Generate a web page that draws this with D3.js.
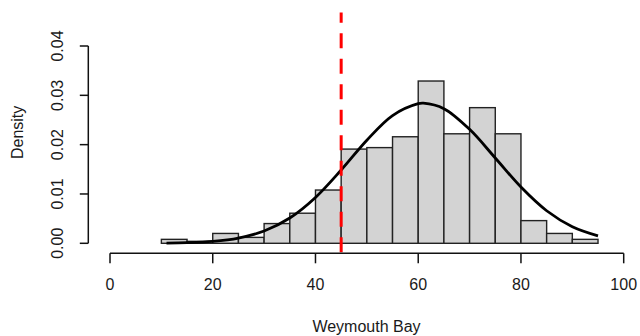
<!DOCTYPE html>
<html>
<head>
<meta charset="utf-8">
<script src="https://cdn.jsdelivr.net/npm/d3@7"></script>
<style>
  body { margin: 0; background: #fff; }
  svg { display: block; }
  text { font-family: "Liberation Sans", Arial, sans-serif; fill: #1a1a1a; }
</style>
</head>
<body>
<figure id="hist" style="margin:0"></figure>
<script>
// histogram bins (left edges) and densities
const binStarts = [10, 15, 20, 25, 30, 35, 40, 45, 50, 55, 60, 65, 70, 75, 80, 85, 90];
const binWidth = 5;
const densities = [0.0008, 0.0004, 0.002, 0.0012, 0.004, 0.0061, 0.0108, 0.0191, 0.0194,
  0.0216, 0.0329, 0.0222, 0.0275, 0.0222, 0.0046, 0.002, 0.0008];

// fitted curve, estimated points
const curveX = [11, 15, 20, 25, 30, 35, 40, 45, 50, 55, 60, 61, 65, 70, 75, 80, 85, 90, 95];
const curveY = [0.00005, 0.00013, 0.0004, 0.00107, 0.00249, 0.00513, 0.0093, 0.01486, 0.0209,
  0.0259, 0.0283, 0.0284, 0.0273, 0.0231, 0.0173, 0.0114, 0.0066, 0.00337, 0.00152];

const cutoff = 45;
const xTicks = [0, 20, 40, 60, 80, 100];
const yTicks = [0, 0.01, 0.02, 0.03, 0.04];

const width = 640, height = 336;

const svg = d3.select("figure#hist")
  .append("svg")
  .attr("width", width)
  .attr("height", height);

const x = d3.scaleLinear().domain([0, 100]).range([110, 623.7]);
const y = d3.scaleLinear().domain([0, 0.04]).range([243.3, 46]);

// bars
svg.selectAll("rect.bar")
  .data(binStarts)
  .enter()
  .append("rect")
  .attr("class", "bar")
  .attr("x", d => x(d))
  .attr("y", (d, i) => y(densities[i]))
  .attr("width", d => x(d + binWidth) - x(d))
  .attr("height", (d, i) => y(0) - y(densities[i]))
  .attr("fill", "#d3d3d3")
  .attr("stroke", "#222")
  .attr("stroke-width", 1.4);

// density curve
const line = d3.line()
  .x((d, i) => x(curveX[i]))
  .y(d => y(d))
  .curve(d3.curveCatmullRom);

svg.append("path")
  .datum(curveY)
  .attr("d", line)
  .attr("fill", "none")
  .attr("stroke", "#000")
  .attr("stroke-width", 2.8);

// red dashed cutoff line, drawn bottom to top
svg.append("line")
  .attr("x1", x(cutoff)).attr("x2", x(cutoff))
  .attr("y1", y(-0.0018)).attr("y2", y(0.0468))
  .attr("stroke", "#ff0000")
  .attr("stroke-width", 3)
  .attr("stroke-dasharray", "15,10.5");

// x axis
const xAxis = svg.append("g").attr("transform", "translate(0,253.3)");
xAxis.append("line")
  .attr("x1", x(0)).attr("x2", x(100))
  .attr("stroke", "#111").attr("stroke-width", 1.5);
xAxis.selectAll("line.tick")
  .data(xTicks).enter().append("line")
  .attr("class", "tick")
  .attr("x1", d => x(d)).attr("x2", d => x(d))
  .attr("y1", 0).attr("y2", 10)
  .attr("stroke", "#111").attr("stroke-width", 1.5);
xAxis.selectAll("text")
  .data(xTicks).enter().append("text")
  .attr("x", d => x(d))
  .attr("y", 37)
  .attr("text-anchor", "middle")
  .style("font-size", "16px")
  .text(d => d);

// y axis
const yAxis = svg.append("g").attr("transform", "translate(88.3,0)");
yAxis.append("line")
  .attr("y1", y(0)).attr("y2", y(0.04))
  .attr("stroke", "#111").attr("stroke-width", 1.5);
yAxis.selectAll("line.tick")
  .data(yTicks).enter().append("line")
  .attr("class", "tick")
  .attr("y1", d => y(d)).attr("y2", d => y(d))
  .attr("x1", 0).attr("x2", -8.5)
  .attr("stroke", "#111").attr("stroke-width", 1.5);
yAxis.selectAll("text")
  .data(yTicks).enter().append("text")
  .attr("transform", d => "translate(-25," + y(d) + ")rotate(-90)")
  .attr("text-anchor", "middle")
  .style("font-size", "16px")
  .text(d => d3.format(".2f")(d));

// axis titles
svg.append("text")
  .attr("x", 366.5)
  .attr("y", 331.5)
  .attr("text-anchor", "middle")
  .style("font-size", "16px")
  .text("Weymouth Bay");

svg.append("text")
  .attr("transform", "translate(23,132.4)rotate(-90)")
  .attr("text-anchor", "middle")
  .style("font-size", "16px")
  .text("Density");
</script>
</body>
</html>
